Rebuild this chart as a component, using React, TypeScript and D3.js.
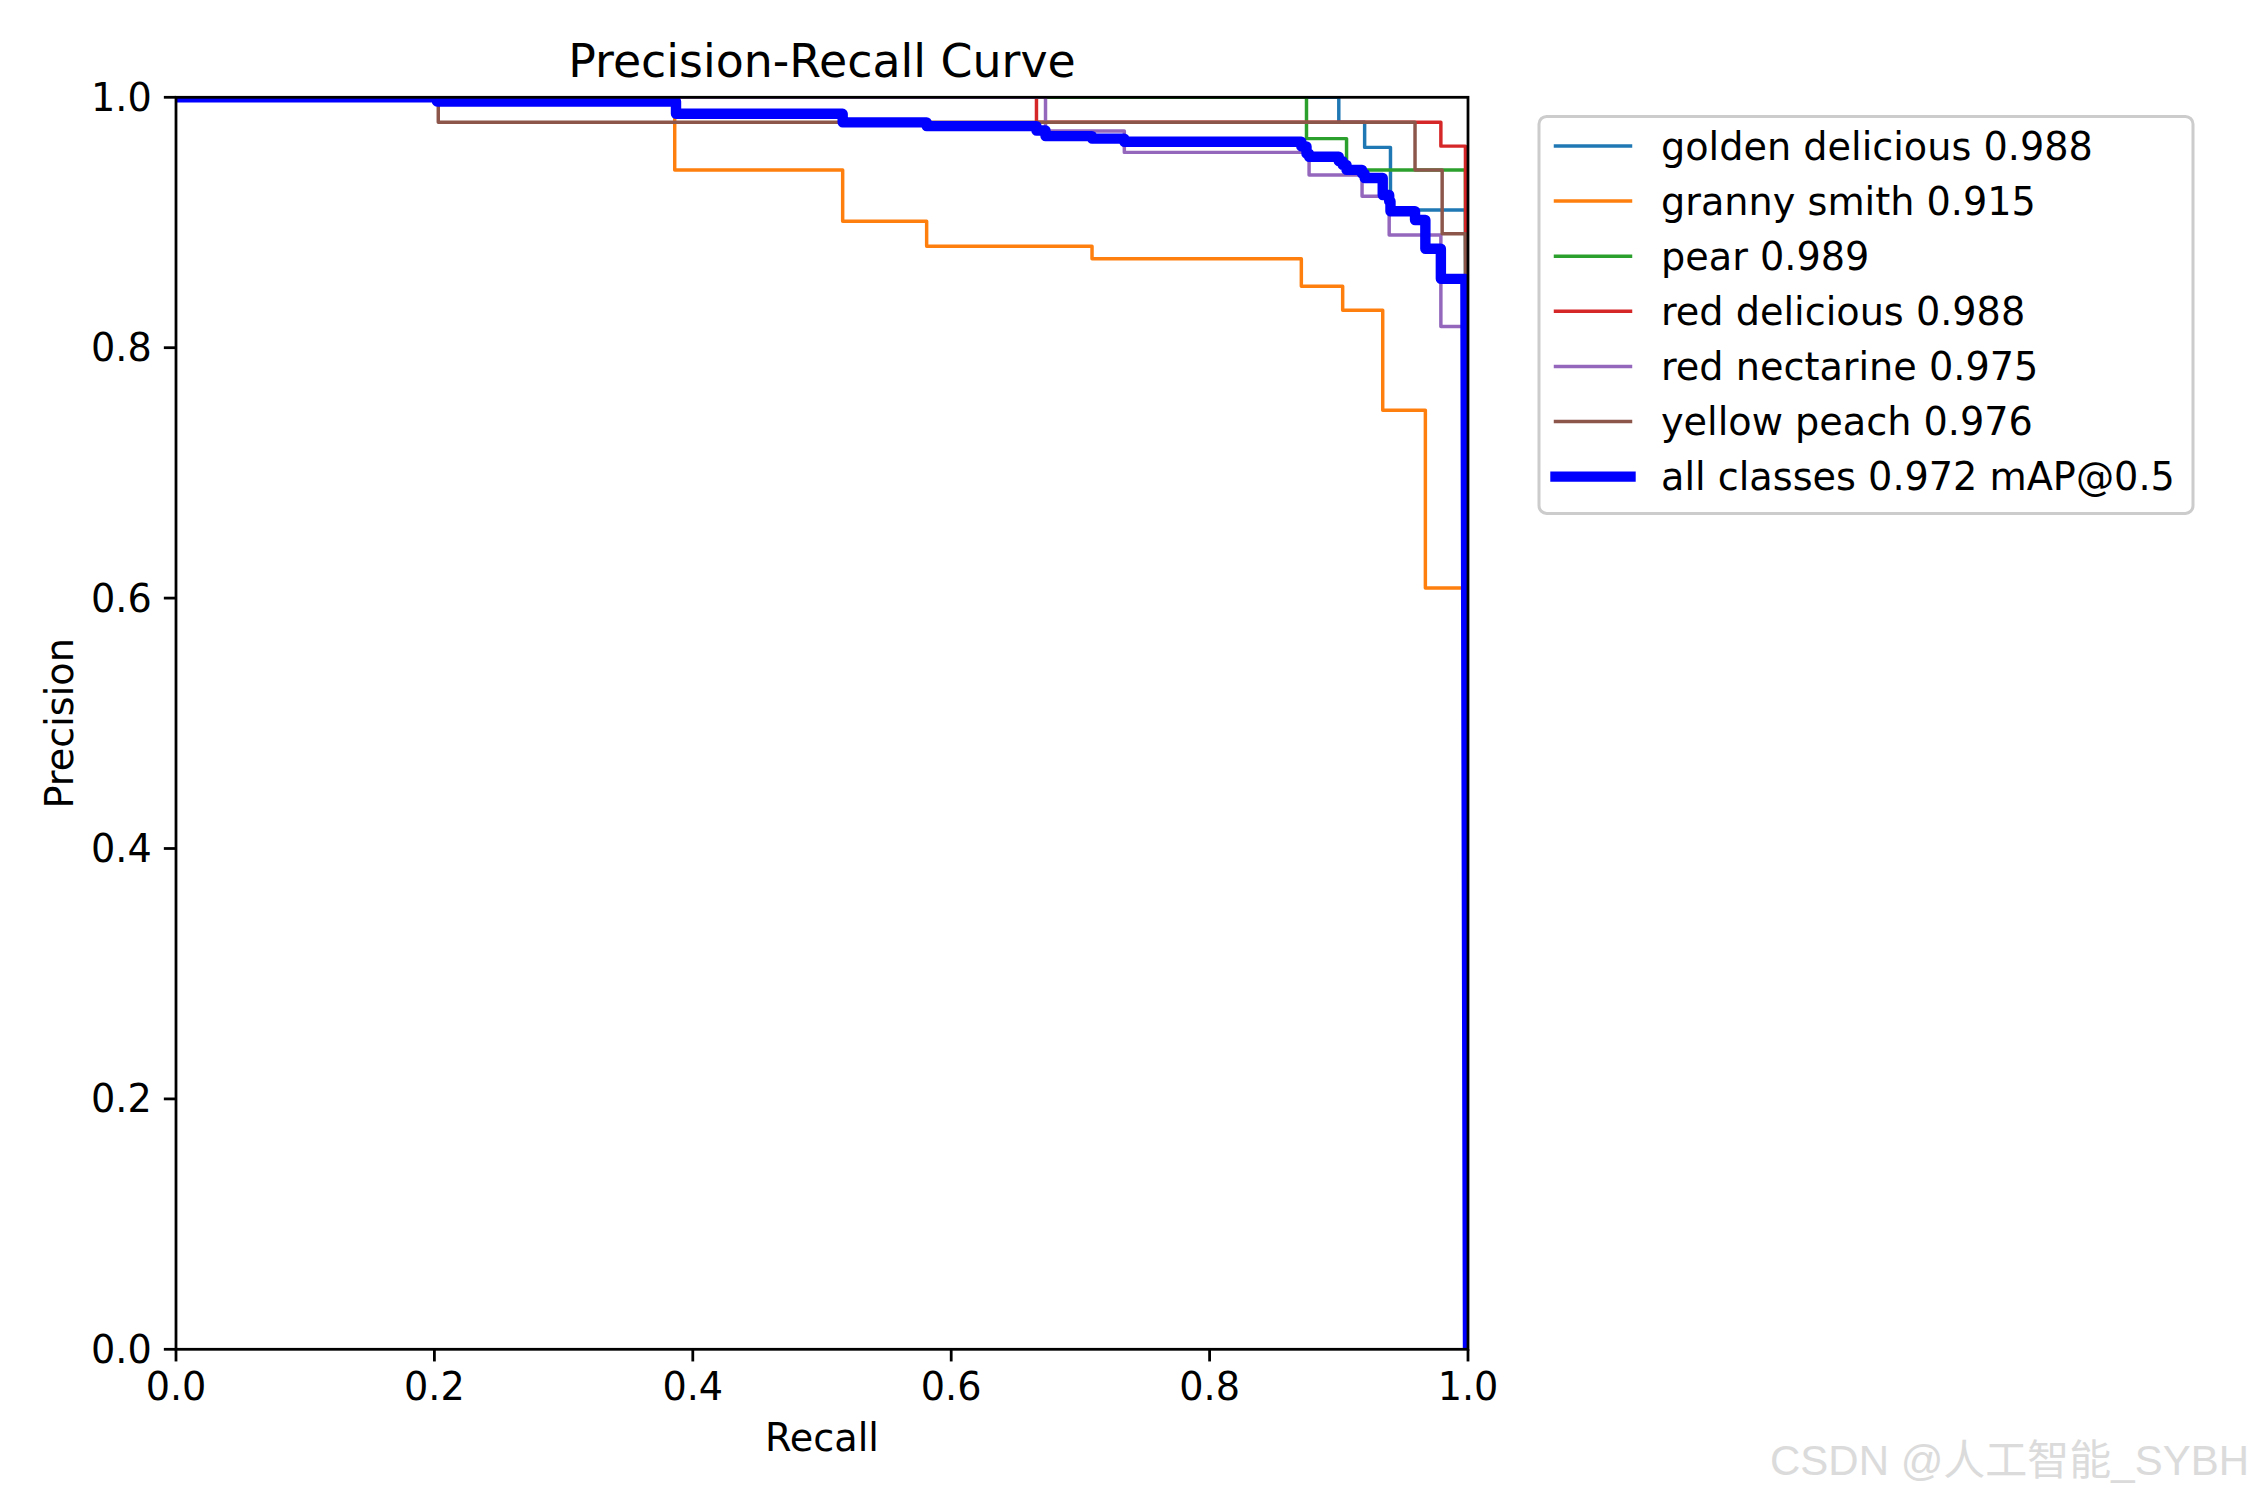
import React from "react";
import * as d3 from "d3";

// ---------- data ----------
const classNames = ["golden delicious", "granny smith", "pear", "red delicious", "red nectarine", "yellow peach"];
const classAP = [0.988, 0.915, 0.989, 0.988, 0.975, 0.976];
const classColors = ["#1f77b4", "#ff7f0e", "#2ca02c", "#d62728", "#9467bd", "#8c564b"];

// step curves: recall where a precision level starts, and that level
const goldenRecall = [0, 0.9, 0.92, 0.94];
const goldenPrecision = [1.0, 0.98, 0.96, 0.91];

const grannyRecall = [0, 0.386, 0.516, 0.581, 0.709, 0.871, 0.903, 0.934, 0.967];
const grannyPrecision = [1.0, 0.942, 0.901, 0.881, 0.871, 0.849, 0.83, 0.75, 0.608];

const pearRecall = [0, 0.875, 0.906];
const pearPrecision = [1.0, 0.967, 0.942];

const redDeliciousRecall = [0, 0.666, 0.979];
const redDeliciousPrecision = [1.0, 0.98, 0.961];

const nectarineRecall = [0, 0.673, 0.734, 0.877, 0.918, 0.939, 0.979];
const nectarinePrecision = [1.0, 0.973, 0.956, 0.938, 0.921, 0.89, 0.817];

const peachRecall = [0, 0.203, 0.959, 0.98];
const peachPrecision = [1.0, 0.98, 0.942, 0.891];

const allRecall = [0, 0.202, 0.387, 0.516, 0.581, 0.666, 0.673, 0.709, 0.734, 0.871, 0.875, 0.877, 0.9, 0.903, 0.906, 0.918, 0.92, 0.934, 0.939, 0.94, 0.959, 0.967, 0.979];
const allPrecision = [1.0, 0.9967, 0.9868, 0.98, 0.977, 0.9735, 0.969, 0.967, 0.9645, 0.9608, 0.955, 0.9525, 0.949, 0.946, 0.942, 0.939, 0.9355, 0.922, 0.917, 0.909, 0.902, 0.879, 0.855];
const allLabel = "all classes 0.972 mAP@0.5";

const lastRecall = 0.998;

const xTicks = [0, 0.2, 0.4, 0.6, 0.8, 1.0];
const yTicks = [0, 0.2, 0.4, 0.6, 0.8, 1.0];

const classRecalls = [goldenRecall, grannyRecall, pearRecall, redDeliciousRecall, nectarineRecall, peachRecall];
const classPrecisions = [goldenPrecision, grannyPrecision, pearPrecision, redDeliciousPrecision, nectarinePrecision, peachPrecision];

// ---------- layout ----------
const W = 2250;
const H = 1500;
const L = 176;
const R = 1468;
const T = 97.3;
const B = 1349.3;
const FS = 38.2;
const FONT = "DejaVu Sans, sans-serif";
const TICK = 12.15;
const SPINE = 2.78;
const LW = 3.47;

function stepPoints(rec: number[], prec: number[]): [number, number][] {
  const pts: [number, number][] = [];
  for (let i = 0; i < rec.length; i++) {
    const next = i < rec.length - 1 ? rec[i + 1] : lastRecall;
    pts.push([rec[i], prec[i]]);
    pts.push([next, prec[i]]);
  }
  pts.push([1.0, 0]);
  return pts;
}

export default function App() {
  const x = d3.scaleLinear().domain([0, 1]).range([L, R]);
  const y = d3.scaleLinear().domain([0, 1]).range([B, T]);
  const line = d3
    .line<[number, number]>()
    .x((d) => x(d[0]))
    .y((d) => y(d[1]));

  const legendLeft = 1539;
  const legendTop = 116.4;
  const legendW = 654;
  const legendH = 397;
  const rowY0 = 146;
  const rowStep = 55.1;
  const handleX0 = 1555.5;
  const handleX1 = 1630.5;
  const textX = 1661;

  const legendItems = classNames.map((n, i) => ({
    label: `${n} ${classAP[i].toFixed(3)}`,
    color: classColors[i],
    width: LW,
  }));
  legendItems.push({ label: allLabel, color: "#0000ff", width: LW * 3 });

  return (
    <svg
      width={W}
      height={H}
      style={{ position: "absolute", left: 0, top: 0, background: "#ffffff" }}
      fontFamily={FONT}
    >
      <rect x={0} y={0} width={W} height={H} fill="#ffffff" />
      <defs>
        <clipPath id="plotClip">
          <rect x={L} y={T} width={R - L} height={B - T} />
        </clipPath>
      </defs>

      <g clipPath="url(#plotClip)">
        {classRecalls.map((rec, i) => (
          <path
            key={classNames[i]}
            d={line(stepPoints(rec, classPrecisions[i])) || ""}
            fill="none"
            stroke={classColors[i]}
            strokeWidth={LW}
            strokeLinejoin="round"
          />
        ))}
        <path
          d={line(stepPoints(allRecall, allPrecision)) || ""}
          fill="none"
          stroke="#0000ff"
          strokeWidth={LW * 3}
          strokeLinejoin="round"
        />
      </g>

      {/* spines */}
      <rect x={L} y={T} width={R - L} height={B - T} fill="none" stroke="#000" strokeWidth={SPINE} />

      {/* x ticks */}
      {xTicks.map((t) => (
        <g key={"x" + t}>
          <line x1={x(t)} x2={x(t)} y1={B} y2={B + TICK} stroke="#000" strokeWidth={SPINE} />
          <text x={x(t)} y={1399.5} fontSize={FS} textAnchor="middle" fill="#000">
            {t.toFixed(1)}
          </text>
        </g>
      ))}
      {/* y ticks */}
      {yTicks.map((t) => (
        <g key={"y" + t}>
          <line x1={L - TICK} x2={L} y1={y(t)} y2={y(t)} stroke="#000" strokeWidth={SPINE} />
          <text x={L - 2 * TICK} y={y(t) + 13.5} fontSize={FS} textAnchor="end" fill="#000">
            {t.toFixed(1)}
          </text>
        </g>
      ))}

      {/* labels */}
      <text x={(L + R) / 2} y={1451} fontSize={FS} textAnchor="middle" fill="#000">
        Recall
      </text>
      <text
        transform={`translate(73, ${(T + B) / 2}) rotate(-90)`}
        fontSize={FS}
        textAnchor="middle"
        fill="#000"
      >
        Precision
      </text>
      <text x={(L + R) / 2} y={77} fontSize={FS * 1.2} textAnchor="middle" fill="#000">
        Precision-Recall Curve
      </text>

      {/* legend */}
      <rect
        x={legendLeft}
        y={legendTop}
        width={legendW}
        height={legendH}
        rx={7.6}
        ry={7.6}
        fill="#ffffff"
        fillOpacity={0.8}
        stroke="#cccccc"
        strokeWidth={3}
      />
      {legendItems.map((it, i) => {
        const cy = rowY0 + i * rowStep;
        return (
          <g key={it.label}>
            <line
              x1={handleX0}
              x2={handleX1}
              y1={cy}
              y2={cy}
              stroke={it.color}
              strokeWidth={it.width}
              strokeLinecap="square"
            />
            <text x={textX} y={cy + 13.5} fontSize={FS} fill="#000">
              {it.label}
            </text>
          </g>
        );
      })}

      {/* watermark */}
      <text
        x={1770}
        y={1475}
        fontSize={42}
        fontFamily="Liberation Sans, Arial, Noto Sans CJK SC, sans-serif"
        fill="#c4c4c4"
        opacity={0.6}
      >
        CSDN @人工智能_SYBH
      </text>
    </svg>
  );
}
